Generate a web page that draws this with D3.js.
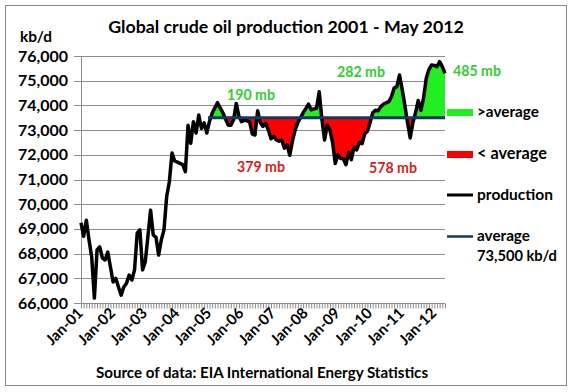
<!DOCTYPE html>
<html><head><meta charset="utf-8">
<script src="https://cdn.jsdelivr.net/npm/d3@7"></script>
<style>
body{margin:0;background:#fff}
svg{display:block}
text{font-family:Lato,'Open Sans',sans-serif;font-weight:bold;fill:#000}
</style>
</head><body>
<svg id="c" width="573" height="392"></svg>
<script>
// ---- data (kb/d), monthly Jan-2001 .. May-2012 ----
const production = [
69250,68700,69350,68550,67860,66200,68150,68270,67820,67740,68060,67460,
66850,67000,66650,66320,66650,66800,67130,66930,67340,68830,68960,67340,
67660,68700,69760,68750,68670,67940,68550,68960,70300,70900,72070,71750,
71700,71650,71600,71320,73200,72470,73340,72880,73610,73070,73290,72880,
73350,73680,73900,74110,73900,73700,73450,73200,73200,73420,74080,73560,
73340,73400,73380,73330,72850,72800,73780,73300,73150,73270,73000,72650,
72750,72600,72550,72600,72270,72400,71980,72550,73000,73300,73500,73700,
73870,74050,73820,73860,73880,74550,73450,72600,73200,73000,72500,71650,
72000,71850,71850,71600,72100,71800,72300,72200,72500,72450,72850,72950,
73300,73700,73800,73780,73950,74050,74100,74150,74350,74700,74760,75230,
74650,74000,73300,72680,73300,73700,74200,73800,74300,75100,75450,75640,
75620,75570,75770,75570,75300
];
const averageValue = 73500;
const averageStartIndex = 48;           // Jan-05
const yTickValues = [66000,67000,68000,69000,70000,71000,72000,73000,74000,75000,76000];
const xTickLabels = ["Jan-01","Jan-02","Jan-03","Jan-04","Jan-05","Jan-06","Jan-07","Jan-08","Jan-09","Jan-10","Jan-11","Jan-12"];
const aboveLabels = ["190 mb","282 mb","485 mb"];
const belowLabels = ["379 mb","578 mb"];
const legendItems = [">average","< average","production","average","73,500 kb/d"];
const titleText = "Global crude oil production 2001 - May 2012";
const unitText = "kb/d";
const sourceText = "Source of data: EIA International Energy Statistics";

// ---- drawing ----
const svg = d3.select("#c");
const L = 81, R = 445, T = 56, B = 303;
const x = d3.scaleLinear().domain([0, production.length - 1]).range([L, R]);
const y = d3.scaleLinear().domain([66000, 76000]).range([B, T]);

const GREEN = "#22ee22", GREEN_T = "#33cc33", RED = "#ff0000", RED_T = "#cc1f1f", NAVY = "#17375e", GRID = "#8c8c8c";

function fit(sel, w, size) {
  sel.style("font-size", size + "px");
  const m = sel.node().getComputedTextLength();
  sel.style("font-size", (size * w / m).toFixed(2) + "px");
  return sel;
}

// frame
svg.append("rect").attr("x", 5.5).attr("y", 5.5).attr("width", 561).attr("height", 380)
  .attr("fill", "#fff").attr("stroke", "#888").attr("stroke-width", 1);

// gridlines
svg.append("g").selectAll("line").data(yTickValues).join("line")
  .attr("x1", L - 7).attr("x2", R)
  .attr("y1", d => Math.round(y(d)) + 0.5).attr("y2", d => Math.round(y(d)) + 0.5)
  .attr("stroke", GRID).attr("stroke-width", 1);

// y axis line
svg.append("line").attr("x1", L + 0.5).attr("x2", L + 0.5).attr("y1", T).attr("y2", B + 1)
  .attr("stroke", GRID);

// y labels
const yl = svg.append("g").selectAll("text").data(yTickValues).join("text")
  .attr("x", 68).attr("y", d => y(d) + 5.5).attr("text-anchor", "end")
  .style("font-size", "15px").text(d3.format(","));
fit(d3.select(yl.nodes()[yl.size() - 1]), 50, 15);
yl.style("font-size", d3.select(yl.nodes()[yl.size() - 1]).style("font-size"));

// x axis (monthly ticks, yearly labels)
const xAxis = d3.axisBottom(x)
  .tickValues(d3.range(production.length))
  .tickSize(5).tickFormat("");
const gx = svg.append("g").attr("transform", `translate(0,${B + 0.5})`).call(xAxis);
gx.select(".domain").attr("stroke", GRID).attr("d", `M${L},0H${R}`);
gx.selectAll(".tick line").attr("stroke", GRID);

const janIdx = xTickLabels.map((_, k) => k * 12);
svg.append("g").selectAll("text").data(janIdx).join("text")
  .attr("transform", d => `translate(${x(d) + 3},${B + 11}) rotate(-45)`)
  .attr("text-anchor", "end").style("font-size", "15px")
  .text((d, k) => xTickLabels[k]);

// areas between production and average
const pts = [];
for (let i = averageStartIndex; i < production.length; i++) {
  const v = production[i];
  pts.push({t: i, v});
  if (i < production.length - 1) {
    const w = production[i + 1];
    if ((v - averageValue) * (w - averageValue) < 0) {
      pts.push({t: i + (averageValue - v) / (w - v), v: averageValue});
    }
  }
}
const areaAbove = d3.area().x(d => x(d.t)).y0(y(averageValue)).y1(d => y(Math.max(d.v, averageValue)));
const areaBelow = d3.area().x(d => x(d.t)).y0(y(averageValue)).y1(d => y(Math.min(d.v, averageValue)));
svg.append("path").attr("d", areaAbove(pts)).attr("fill", GREEN);
svg.append("path").attr("d", areaBelow(pts)).attr("fill", RED);

// production line
const line = d3.line().x((d, i) => x(i)).y(d => y(d));
svg.append("path").attr("d", line(production)).attr("fill", "none")
  .attr("stroke", "#000").attr("stroke-width", 3.5).attr("stroke-linejoin", "round");

// average line
svg.append("line")
  .attr("x1", x(averageStartIndex) - 1.5).attr("x2", x(production.length - 1))
  .attr("y1", y(averageValue)).attr("y2", y(averageValue))
  .attr("stroke", NAVY).attr("stroke-width", 3);

// area labels
const abovePos = [[251, 100], [361, 77], [477, 76]];
aboveLabels.forEach((t, k) => {
  const s = svg.append("text").attr("x", abovePos[k][0]).attr("y", abovePos[k][1])
    .attr("text-anchor", "middle").style("fill", GREEN_T).text(t);
  fit(s, 48, 15);
});
const belowPos = [[261, 172], [393, 173]];
belowLabels.forEach((t, k) => {
  const s = svg.append("text").attr("x", belowPos[k][0]).attr("y", belowPos[k][1])
    .attr("text-anchor", "middle").style("fill", RED_T).text(t);
  fit(s, 48, 15);
});

// legend
const lg = svg.append("g");
lg.append("rect").attr("x", 447).attr("y", 109).attr("width", 26).attr("height", 7).attr("fill", GREEN);
lg.append("rect").attr("x", 447).attr("y", 151).attr("width", 26).attr("height", 7).attr("fill", RED);
lg.append("line").attr("x1", 447).attr("x2", 473).attr("y1", 195).attr("y2", 195).attr("stroke", "#000").attr("stroke-width", 3);
lg.append("line").attr("x1", 447).attr("x2", 473).attr("y1", 236.5).attr("y2", 236.5).attr("stroke", NAVY).attr("stroke-width", 2.5);
const lgPos = [[477, 117, 62], [477, 159, 70], [477, 200, 76], [477, 241, 53], [477, 261, 80]];
legendItems.forEach((t, k) => {
  const s = lg.append("text").attr("x", lgPos[k][0]).attr("y", lgPos[k][1]).text(t);
  fit(s, lgPos[k][2], 15);
});

// title, unit, source
fit(svg.append("text").attr("x", 286).attr("y", 33).attr("text-anchor", "middle").text(titleText), 356, 18);
fit(svg.append("text").attr("x", 20).attr("y", 42).text(unitText), 32, 15);
fit(svg.append("text").attr("x", 262).attr("y", 378).attr("text-anchor", "middle").text(sourceText), 332, 15);
</script>
</body></html>
